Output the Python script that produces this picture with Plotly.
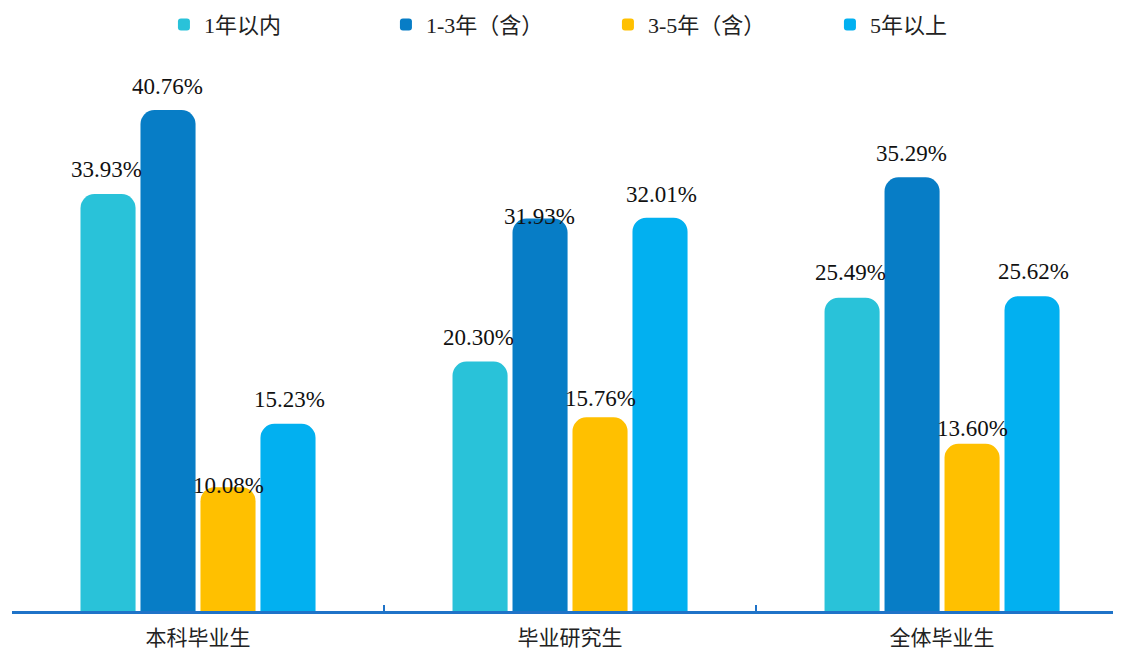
import plotly.graph_objects as go

categories = ["本科毕业生", "毕业研究生", "全体毕业生"]
series_names = ["1年以内", "1-3年（含）", "3-5年（含）", "5年以上"]
v_within1 = [33.93, 20.30, 25.49]
v_1to3 = [40.76, 31.93, 35.29]
v_3to5 = [10.08, 15.76, 13.60]
v_over5 = [15.23, 32.01, 25.62]

series_values = [v_within1, v_1to3, v_3to5, v_over5]
colors = ["#29C2D9", "#077DC6", "#FFC000", "#02B0F0"]
# vertical offsets (px) of value labels above bar tops, per series per category
label_shift = [[25, 24, 25], [24, 2, 24], [2, 19, 15], [24, 23, 25]]

SERIF = "Liberation Serif"

fig = go.Figure()
for name, vals, col in zip(series_names, series_values, colors):
    fig.add_trace(go.Bar(
        x=categories, y=vals, name=name,
        marker=dict(color=col, line=dict(width=0), cornerradius=14),
    ))

step = 61
for i, vals in enumerate(series_values):
    for j, v in enumerate(vals):
        fig.add_annotation(
            x=categories[j], y=v, xref="x", yref="y",
            text=f"{v:.2f}%", showarrow=False,
            xshift=(i - 1.5) * step, yshift=label_shift[i][j],
            yanchor="middle", xanchor="center",
            font=dict(family=SERIF, size=23, color="#111111"),
        )

fig.update_layout(
    width=1113, height=647,
    paper_bgcolor="white", plot_bgcolor="white",
    margin=dict(l=4, r=0, t=50, b=44, autoexpand=False),
    barmode="group", bargap=0.355, bargroupgap=0.082,
    showlegend=True,
    legend=dict(
        orientation="h", x=0.137, xanchor="left",
        yref="container", y=0.974, yanchor="middle",
        font=dict(family=SERIF + ", Noto Sans CJK SC", size=22, color="#222222"),
        entrywidth=177, itemwidth=30,
    ),
    xaxis=dict(
        range=[-0.5, 2.481], showline=True, linecolor="#1F73C8", linewidth=3,
        ticks="inside", tickson="boundaries", ticklen=6, tickcolor="#1F73C8", tickwidth=2,
        tickfont=dict(family="Noto Sans CJK SC", size=21, color="#222222"),
        ticklabelstandoff=6,
        showgrid=False, zeroline=False, fixedrange=True,
    ),
    yaxis=dict(range=[0, 45], visible=False, showgrid=False, zeroline=False),
)

fig.write_html("out.html")
